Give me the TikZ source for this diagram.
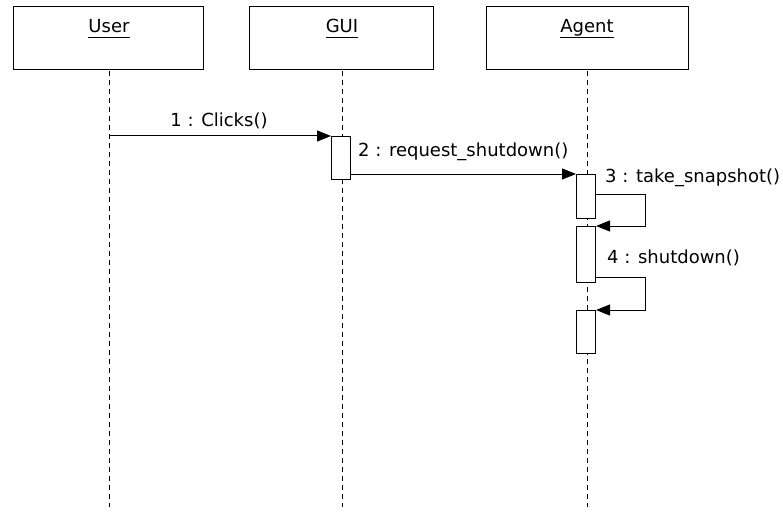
\documentclass[tikz,border=0pt]{standalone}
\usepackage{fontspec}
\setmainfont{DejaVu Sans}
\usetikzlibrary{arrows.meta}
\newcommand\myul[1]{\underline{\smash{#1}\rule[-2.5pt]{0pt}{1pt}}}
\begin{document}
\begin{tikzpicture}[x=1pt,y=-1pt,
  objbox/.style={draw,line width=1pt,fill=white},
  lifeline/.style={line width=1pt,dash pattern=on 5pt off 4pt},
  actbox/.style={draw,line width=1pt,fill=white,inner sep=0pt,minimum width=19pt,anchor=north west},
  msg/.style={line width=1pt,-{Triangle[length=14pt,width=11pt]}},
  lbl/.style={font=\fontsize{18}{20}\selectfont,inner sep=0pt},
  ttl/.style={font=\fontsize{18}{20}\selectfont,inner sep=0pt,anchor=base}]
\useasboundingbox (0,0) rectangle (783,513);
% object boxes
\draw[objbox] (13,7) rectangle (203,70);
\draw[objbox] (249,7) rectangle (433,70);
\draw[objbox] (486,7) rectangle (688,70);
\node[ttl] (tuser) at (109,33) {\myul{User}};
\node[ttl] (tgui) at (342,33) {\myul{GUI}};
\node[ttl] (tagent) at (587,33) {\myul{Agent}};
\coordinate (uTop) at (109,71);
\coordinate (uBot) at (109,507);
\coordinate (gTop) at (342,71);
\coordinate (gBot) at (342,507);
\coordinate (aTop) at (587,71);
\coordinate (aBot) at (587,507);
% lifelines
\draw[lifeline] (uTop) -- (uBot);
\draw[lifeline] (gTop) -- (gBot);
\draw[lifeline] (aTop) -- (aBot);
% activations
\node[actbox,minimum height=43pt] (gact) at (331,136) {};
\node[actbox,minimum height=44pt] (aact1) at (576,174) {};
\node[actbox,minimum height=56pt] (aact2) at (576,226) {};
\node[actbox,minimum height=43pt] (aact3) at (576,310) {};
% message 1
\coordinate (m1s) at (109,136);
\draw[msg] (m1s) -- (gact.north west);
\node[lbl] (l1) at (219,121) {1 : Clicks()};
% message 2
\coordinate (m2s) at (350,174);
\draw[msg] (m2s) -- (aact1.north west);
\node[lbl,anchor=west] (l2) at (358,152) {2 : request\_shutdown()};
% message 3
\coordinate (m3a) at (595,194);
\coordinate (m3b) at (645,194);
\coordinate (m3c) at (645,226);
\draw[msg] (m3a) -- (m3b) -- (m3c) -- (aact2.north east);
\node[lbl,anchor=west] (l3) at (605,178) {3 : take\_snapshot()};
% message 4
\coordinate (m4a) at (595,277);
\coordinate (m4b) at (645,277);
\coordinate (m4c) at (645,310);
\draw[msg] (m4a) -- (m4b) -- (m4c) -- (aact3.north east);
\node[lbl,anchor=west] (l4) at (607,258) {4 : shutdown()};
\end{tikzpicture}
\end{document}
